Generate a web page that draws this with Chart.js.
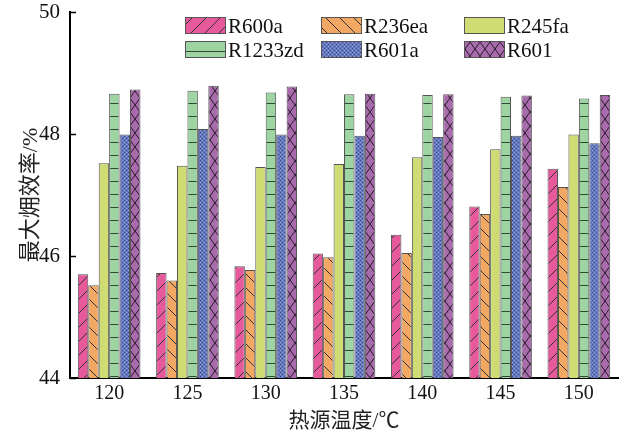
<!DOCTYPE html>
<html>
<head>
<meta charset="utf-8">
<script src="https://cdn.jsdelivr.net/npm/chart.js@4.4.1/dist/chart.umd.min.js"></script>
<style>
html,body{margin:0;padding:0;background:#fff;}
#wrap{width:622px;height:434px;}
</style>
</head>
<body>
<div id="wrap"><canvas id="c" width="622" height="434"></canvas></div>
<script>
const temps = ['120','125','130','135','140','145','150'];
const seriesNames = ['R600a','R236ea','R245fa','R1233zd','R601a','R601'];
const R600a   = [45.70, 45.72, 45.83, 46.04, 46.35, 46.81, 47.43];
const R236ea  = [45.52, 45.60, 45.77, 45.98, 46.05, 46.69, 47.13];
const R245fa  = [47.52, 47.48, 47.46, 47.51, 47.62, 47.75, 47.99];
const R1233zd = [48.66, 48.71, 48.68, 48.65, 48.64, 48.61, 48.58];
const R601a   = [47.99, 48.08, 47.99, 47.97, 47.95, 47.97, 47.85];
const R601    = [48.73, 48.79, 48.78, 48.66, 48.65, 48.63, 48.64];
const yTicks  = [44, 46, 48, 50];

function makePattern(base, w, h, draw) {
  const cv = document.createElement('canvas');
  cv.width = w; cv.height = h;
  const g = cv.getContext('2d');
  g.fillStyle = base; g.fillRect(0, 0, w, h);
  draw(g, w, h);
  return g.createPattern(cv, 'repeat');
}
const lineCol = '#333';
const pPink = makePattern('#E65A9B', 14, 14, (g, w, h) => {
  g.strokeStyle = lineCol; g.lineWidth = 1;
  g.beginPath(); g.moveTo(-1, h + 1); g.lineTo(w + 1, -1); g.stroke();
});
const pOrange = makePattern('#F2A862', 14, 14, (g, w, h) => {
  g.strokeStyle = lineCol; g.lineWidth = 1;
  g.beginPath(); g.moveTo(-1, -1); g.lineTo(w + 1, h + 1); g.stroke();
});
const pYellow = '#CEDC73';
const pGreen = makePattern('#9DD4A1', 4, 13, (g, w, h) => {
  g.fillStyle = '#2f4a33'; g.fillRect(0, h - 1, w, 1);
});
const pBlue = makePattern('#6478BE', 4, 4, (g) => {
  g.fillStyle = '#3b4a8c'; g.fillRect(0, 0, 1, 1); g.fillRect(2, 2, 1, 1);
  g.fillStyle = '#93a2dc'; g.fillRect(2, 0, 1, 1); g.fillRect(0, 2, 1, 1);
});
const pPurple = makePattern('#A86CAC', 10, 14, (g, w, h) => {
  g.strokeStyle = '#2a1a2c'; g.lineWidth = 1;
  g.beginPath(); g.moveTo(0, 0); g.lineTo(w, h); g.moveTo(w, 0); g.lineTo(0, h); g.stroke();
});

const fills = [pPink, pOrange, pYellow, pGreen, pBlue, pPurple];
const values = [R600a, R236ea, R245fa, R1233zd, R601a, R601];

const serif = '"Liberation Serif", "Times New Roman", serif';
const cjk = '"Liberation Serif", "Noto Sans CJK SC", serif';

const innerTicks = {
  id: 'innerTicks',
  afterDraw(chart) {
    const ctx = chart.ctx, y = chart.scales.y;
    ctx.save();
    ctx.strokeStyle = '#000'; ctx.lineWidth = 1.5;
    yTicks.forEach(v => {
      const py = Math.round(y.getPixelForValue(v)) + 0.5;
      ctx.beginPath(); ctx.moveTo(y.right, py); ctx.lineTo(y.right + 6, py); ctx.stroke();
    });
    ctx.restore();
  }
};

const legendCols = [185, 321, 464];
const legendRows = [17, 41];
const customLegend = {
  id: 'customLegend',
  afterDraw(chart) {
    const ctx = chart.ctx;
    ctx.save();
    chart.data.datasets.forEach((ds, i) => {
      const x = legendCols[i % 3], yy = legendRows[Math.floor(i / 3)];
      ctx.fillStyle = ds.backgroundColor;
      ctx.fillRect(x, yy, 40, 16);
      ctx.strokeStyle = '#555'; ctx.lineWidth = 1;
      ctx.strokeRect(x + 0.5, yy + 0.5, 40, 16);
      ctx.fillStyle = '#111';
      ctx.font = '21px ' + serif;
      ctx.textBaseline = 'middle';
      ctx.fillText(ds.label, x + 43, yy + 10);
    });
    ctx.restore();
  }
};

new Chart(document.getElementById('c'), {
  type: 'bar',
  data: {
    labels: temps,
    datasets: seriesNames.map((n, i) => ({
      label: n,
      data: values[i],
      backgroundColor: fills[i],
      borderColor: '#555',
      borderWidth: 1,
      categoryPercentage: 0.8,
      barPercentage: 1.0
    }))
  },
  options: {
    responsive: false,
    animation: false,
    devicePixelRatio: 1,
    layout: { padding: { top: 12, right: 4, bottom: 0, left: 0 } },
    plugins: { legend: { display: false }, tooltip: { enabled: false } },
    scales: {
      x: {
        grid: { display: false },
        border: { display: true, color: '#000', width: 2 },
        ticks: { color: '#111', font: { family: serif, size: 20 }, padding: -4, maxRotation: 0 },
        title: { display: true, text: '热源温度/℃', color: '#222', font: { family: cjk, size: 21 }, padding: { top: 0, bottom: 0 } },
        afterFit(s) { s.height = 56; s.paddingLeft = 0; s.paddingRight = 0; }
      },
      y: {
        min: 44, max: 50,
        grid: { display: false },
        border: { display: true, color: '#000', width: 2 },
        afterBuildTicks(s) { s.ticks = yTicks.map(v => ({ value: v })); },
        ticks: { color: '#111', font: { family: serif, size: 21 }, padding: 2 },
        title: { display: true, text: '最大㶲效率/%', color: '#222', font: { family: cjk, size: 22 }, padding: { top: 18, bottom: 0 } },
        afterFit(s) { s.width = 70; s.paddingTop = 0; s.paddingBottom = 0; }
      }
    }
  },
  plugins: [innerTicks, customLegend]
});
</script>
</body>
</html>
